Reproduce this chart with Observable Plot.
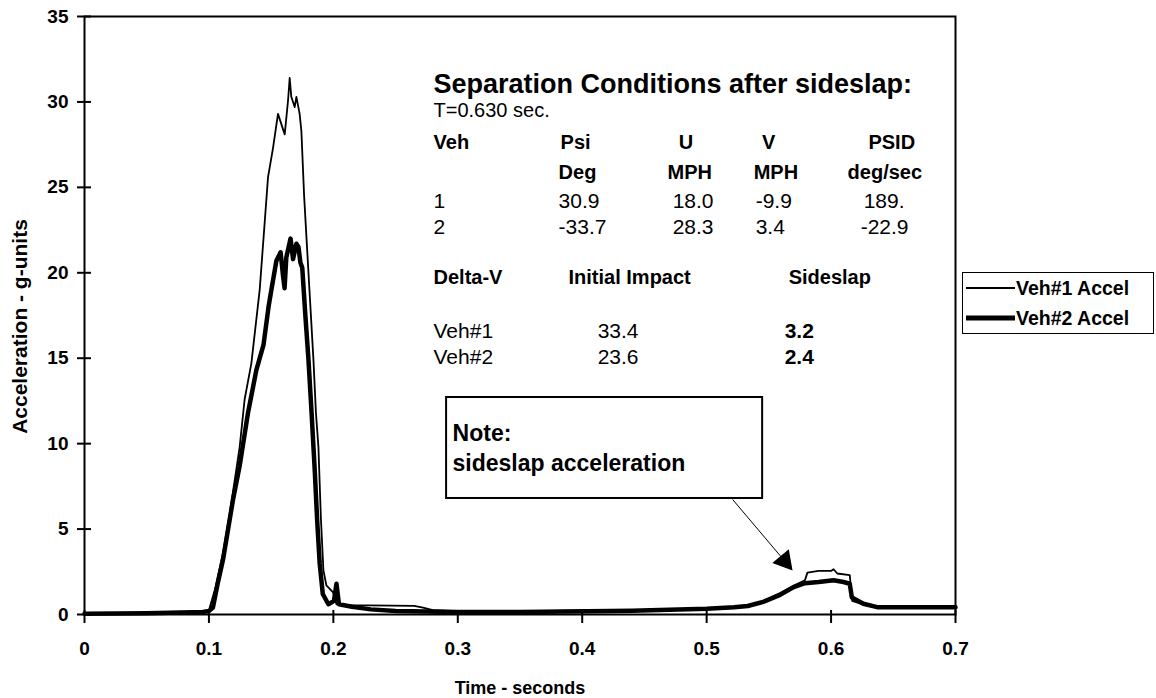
<!DOCTYPE html>
<html><head><meta charset="utf-8">
<script src="https://cdn.jsdelivr.net/npm/d3@7"></script>
<script src="https://cdn.jsdelivr.net/npm/@observablehq/plot@0.6"></script>
<style>
body{margin:0;background:#fff;font-family:"Liberation Sans",Arial,sans-serif;}
#wrap{position:relative;width:1156px;height:698px;overflow:hidden;}
#legend{position:absolute;left:962px;top:272px;width:192px;height:62px;border:1.5px solid #000;background:#fff;box-sizing:border-box;}
.lrow{position:absolute;left:3px;height:30px;display:flex;align-items:center;font-weight:bold;font-size:19.5px;color:#000;white-space:nowrap;}
.lrow svg{margin-right:1px;}
g[aria-label="y-axis tick label"], g[aria-label="x-axis tick label"] {font-weight:bold !important;}
</style></head><body>
<div id="wrap"></div>
<script>
// Veh#1 acceleration trace (time s, g-units)
const veh1Time = [0,0.05,0.095,0.1,0.1006,0.105,0.1113,0.1166,0.1247,0.1287,0.1341,0.1408,0.1475,0.1515,0.1555,0.1582,0.1609,0.1636,0.1649,0.1662,0.1689,0.1703,0.1729,0.1743,0.1765,0.18,0.184,0.186,0.188,0.19,0.192,0.1944,0.1998,0.2025,0.21,0.265,0.272,0.28,0.3,0.35,0.44,0.5,0.52,0.533,0.546,0.559,0.57,0.579,0.581,0.59,0.6,0.602,0.605,0.615,0.617,0.625,0.634,0.7];
const veh1Accel = [0.05,0.1,0.15,0.2,0.4,1.5,3.6,5.85,9.8,12.6,14.7,19.0,25.6,27.3,29.3,28.7,28.1,30.1,31.4,30.3,29.7,30.3,29.3,28.3,24.5,20.0,14.9,11.8,9.8,5.6,2.6,1.7,1.3,0.6,0.55,0.5,0.4,0.25,0.2,0.2,0.25,0.35,0.45,0.5,0.8,1.25,1.7,2.0,2.45,2.55,2.55,2.65,2.4,2.3,0.8,0.6,0.45,0.45];
// Veh#2 acceleration trace
const veh2Time = [0,0.05,0.095,0.1,0.1032,0.107,0.1113,0.1193,0.1247,0.1314,0.1381,0.1439,0.1479,0.1502,0.1542,0.1576,0.1596,0.1608,0.1622,0.1656,0.1676,0.1703,0.172,0.1735,0.175,0.1775,0.18,0.1825,0.185,0.187,0.189,0.1915,0.196,0.2005,0.2025,0.2045,0.215,0.23,0.25,0.3,0.35,0.44,0.5,0.522,0.533,0.546,0.559,0.57,0.579,0.59,0.602,0.61,0.615,0.6167,0.626,0.637,0.7];
const veh2Accel = [0.05,0.08,0.15,0.2,0.4,1.8,3.2,6.7,8.7,11.8,14.3,15.8,18.0,19.0,20.7,21.2,19.8,19.1,20.9,22.0,20.8,21.7,21.5,20.6,20.3,17.5,14.9,11.8,8.5,5.5,3.0,1.2,0.6,0.8,1.8,0.6,0.45,0.3,0.2,0.15,0.15,0.22,0.33,0.42,0.5,0.75,1.15,1.6,1.83,1.9,2.0,1.9,1.8,1.0,0.63,0.43,0.43];

const xTicks = [0,0.1,0.2,0.3,0.4,0.5,0.6,0.7];
const yTicks = [0,5,10,15,20,25,30,35];
const xTitle = "Time - seconds";
const yTitle = "Acceleration - g-units";
const seriesNames = ["Veh#1 Accel","Veh#2 Accel"];

// Text table (positions in chart units: seconds, g)
const tableTexts = [
  {x:0.2805,y:31.0,text:"Separation Conditions after sideslap:",w:"bold",s:27},
  {x:0.2805,y:29.5,text:"T=0.630 sec.",w:"normal",s:20},
  {x:0.2805,y:27.6,text:"Veh",w:"bold",s:20},
  {x:0.3826,y:27.6,text:"Psi",w:"bold",s:20},
  {x:0.4775,y:27.6,text:"U",w:"bold",s:20},
  {x:0.5445,y:27.6,text:"V",w:"bold",s:20},
  {x:0.6300,y:27.6,text:"PSID",w:"bold",s:20},
  {x:0.3810,y:25.85,text:"Deg",w:"bold",s:20},
  {x:0.4686,y:25.85,text:"MPH",w:"bold",s:20},
  {x:0.5378,y:25.85,text:"MPH",w:"bold",s:20},
  {x:0.6133,y:25.85,text:"deg/sec",w:"bold",s:20},
  {x:0.2805,y:24.2,text:"1",w:"normal",s:21},
  {x:0.3810,y:24.2,text:"30.9",w:"normal",s:21},
  {x:0.4727,y:24.2,text:"18.0",w:"normal",s:21},
  {x:0.5394,y:24.2,text:"-9.9",w:"normal",s:21},
  {x:0.6262,y:24.2,text:"189.",w:"normal",s:21},
  {x:0.2805,y:22.65,text:"2",w:"normal",s:21},
  {x:0.3810,y:22.65,text:"-33.7",w:"normal",s:21},
  {x:0.4727,y:22.65,text:"28.3",w:"normal",s:21},
  {x:0.5394,y:22.65,text:"3.4",w:"normal",s:21},
  {x:0.6238,y:22.65,text:"-22.9",w:"normal",s:21},
  {x:0.2805,y:19.7,text:"Delta-V",w:"bold",s:20},
  {x:0.3890,y:19.7,text:"Initial Impact",w:"bold",s:20},
  {x:0.5659,y:19.7,text:"Sideslap",w:"bold",s:20},
  {x:0.2805,y:16.6,text:"Veh#1",w:"normal",s:21},
  {x:0.4124,y:16.6,text:"33.4",w:"normal",s:21},
  {x:0.5627,y:16.6,text:"3.2",w:"bold",s:21},
  {x:0.2805,y:15.05,text:"Veh#2",w:"normal",s:21},
  {x:0.4124,y:15.05,text:"23.6",w:"normal",s:21},
  {x:0.5627,y:15.05,text:"2.4",w:"bold",s:21}
];
const noteBox = [{x1:0.291,x2:0.545,y1:6.79,y2:12.70}];
const noteTexts = [
  {x:0.2958,y:10.59,text:"Note:"},
  {x:0.2958,y:8.84,text:"sideslap acceleration"}
];
const arrowLine = [{x1:0.5209,y1:6.73,x2:0.5626,y2:3.14}];
const arrowHead = [{x:0.5626,y:3.14}];

const veh1 = veh1Time.map((t,i)=>({t, g:veh1Accel[i]}));
const veh2 = veh2Time.map((t,i)=>({t, g:veh2Accel[i]}));
const font = '"Liberation Sans", Arial, sans-serif';
const boldTexts = tableTexts.filter(d=>d.w==="bold");
const normalTexts = tableTexts.filter(d=>d.w!=="bold");

const chart = Plot.plot({
  width:1156, height:698,
  marginLeft:84, marginRight:201, marginTop:16, marginBottom:84,
  x:{domain:[0,0.7]},
  y:{domain:[0,35]},
  style:{fontFamily:font, background:"transparent", color:"black", fontWeight:"bold"},
  marks:[
    Plot.axisY({ticks:yTicks, tickSize:0, tickPadding:16, fontSize:19, fontWeight:"bold", label:null}),
    Plot.axisX({ticks:xTicks, tickSize:0, tickPadding:27, fontSize:19, fontWeight:"bold", label:null,
      tickFormat:d=> d===0 ? "0" : d3.format(".1f")(d)}),
    Plot.ruleY(yTicks,{y:d=>d, x1:0, x2:0, insetLeft:-7, insetRight:-7, strokeWidth:2}),
    Plot.ruleX(xTicks,{x:d=>d, y1:0, y2:0, insetTop:-4, insetBottom:-9, strokeWidth:2}),
    Plot.line(veh2,{x:"t", y:"g", stroke:"black", strokeWidth:4.5, strokeLinejoin:"round"}),
    Plot.line(veh1,{x:"t", y:"g", stroke:"black", strokeWidth:1.8, strokeLinejoin:"round"}),
    Plot.frame({stroke:"black", strokeWidth:2}),
    Plot.text(boldTexts,{x:"x", y:"y", text:"text", textAnchor:"start", lineAnchor:"middle",
      fontWeight:"bold", fontSize:d=>d.s, fill:"black"}),
    Plot.text(normalTexts,{x:"x", y:"y", text:"text", textAnchor:"start", lineAnchor:"middle",
      fontWeight:"normal", fontSize:d=>d.s, fill:"black"}),
    Plot.rect(noteBox,{x1:"x1", x2:"x2", y1:"y1", y2:"y2", fill:"white", stroke:"black", strokeWidth:2}),
    Plot.text(noteTexts,{x:"x", y:"y", text:"text", textAnchor:"start", lineAnchor:"middle", fontWeight:"bold", fontSize:23, fill:"black"}),
    Plot.link(arrowLine,{x1:"x1", y1:"y1", x2:"x2", y2:"y2", stroke:"black", strokeWidth:1}),
    Plot.dot(arrowHead,{x:"x", y:"y", symbol:"triangle", r:8, rotate:140, fill:"black", stroke:"none"}),
    Plot.text([xTitle],{text:d=>d, frameAnchor:"bottom", textAnchor:"middle", dy:79, fontSize:18, fontWeight:"bold", fill:"black"}),
    Plot.text([yTitle],{text:d=>d, frameAnchor:"left", textAnchor:"middle", dx:-64, dy:11, rotate:-90, fontSize:21, fontWeight:"bold", fill:"black"})
  ]
});
const wrap = document.getElementById("wrap");
wrap.appendChild(chart);

// legend
const legend = document.createElement("div");
legend.id = "legend";
const widths = [1.8, 5];
seriesNames.forEach((name,i)=>{
  const row = document.createElement("div");
  row.className = "lrow";
  row.style.top = (i===0 ? 0 : 30) + "px";
  row.innerHTML = `<svg width="49" height="10"><line x1="0" x2="49" y1="5" y2="5" stroke="black" stroke-width="${widths[i]}"/></svg><span>${name}</span>`;
  legend.appendChild(row);
});
wrap.appendChild(legend);
</script>
</body></html>
